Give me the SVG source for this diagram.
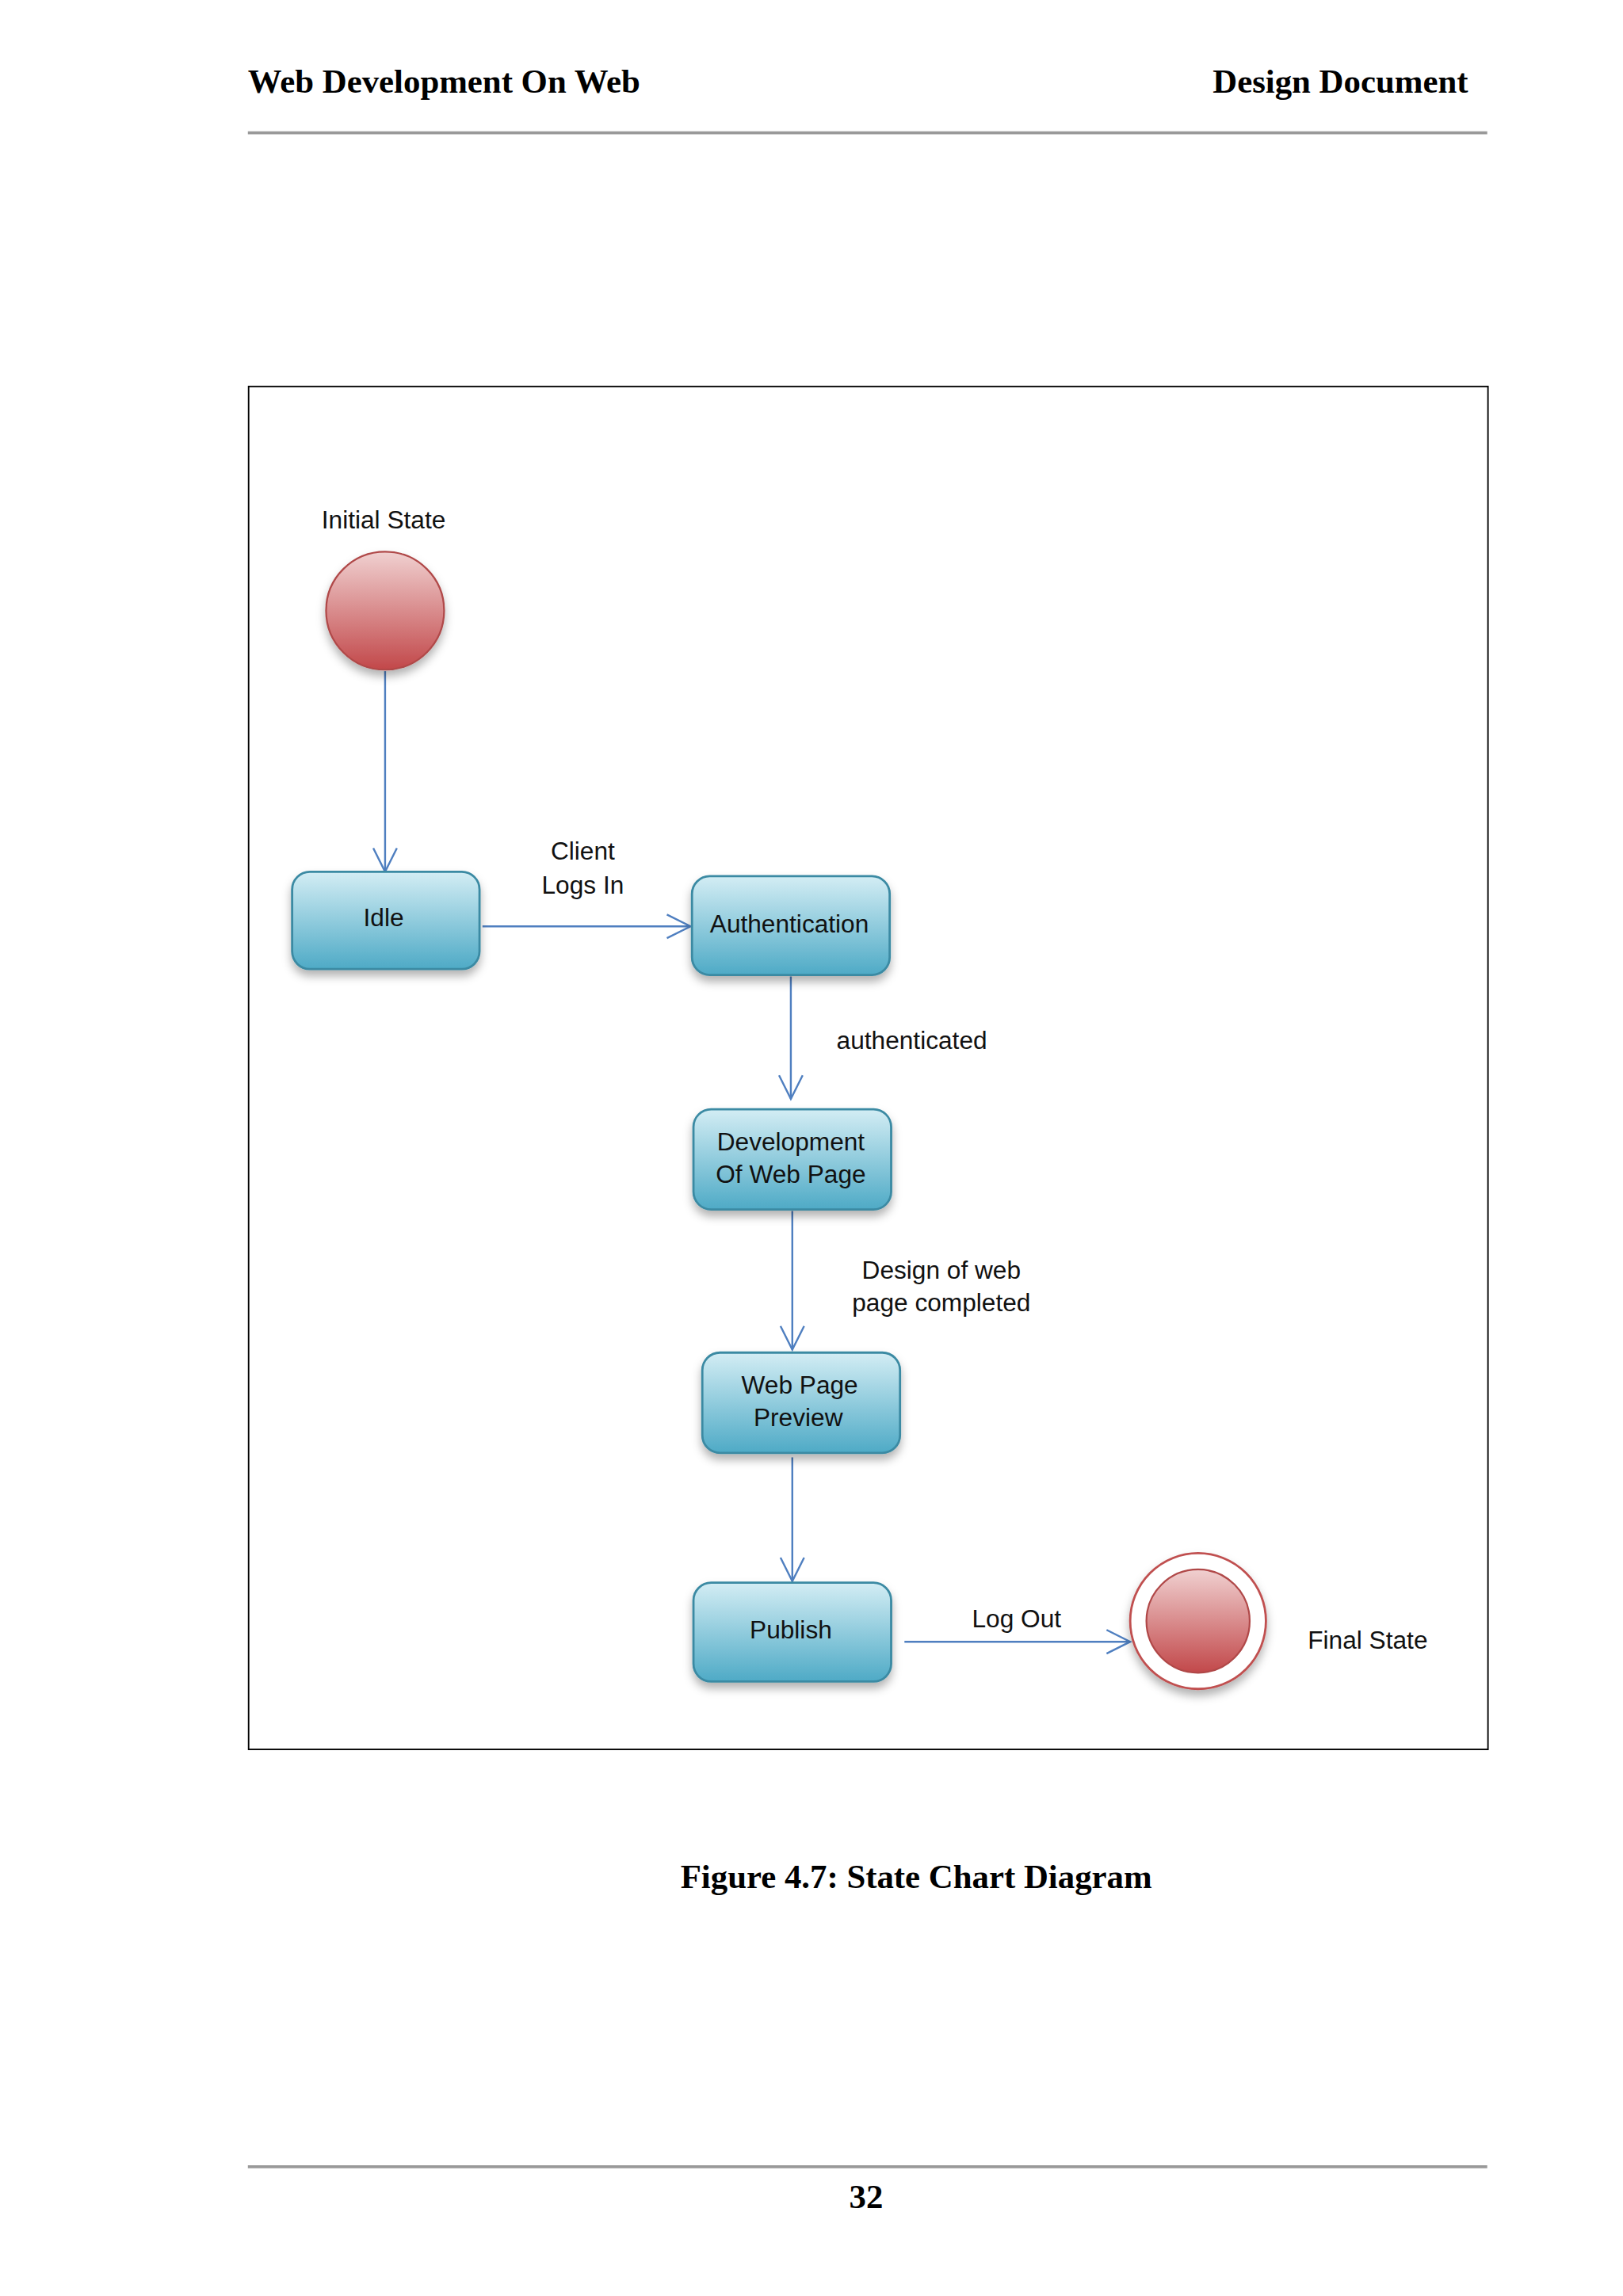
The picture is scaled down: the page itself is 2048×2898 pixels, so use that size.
<svg xmlns="http://www.w3.org/2000/svg" width="2048" height="2898" viewBox="0 0 2048 2898">
<defs>
<linearGradient id="box" x1="0" y1="0" x2="0" y2="1"><stop offset="0" stop-color="#d3edf4"/><stop offset="1" stop-color="#4eaac6"/></linearGradient>
<linearGradient id="red" x1="0" y1="0" x2="0" y2="1"><stop offset="0" stop-color="#f0d0d0"/><stop offset="1" stop-color="#c2484a"/></linearGradient>
<filter id="sh" x="-20%" y="-20%" width="140%" height="150%"><feDropShadow dx="0" dy="4" stdDeviation="3" flood-color="#000" flood-opacity="0.3"/></filter>
<marker id="arr" viewBox="0 0 20 20" refX="18" refY="10" markerWidth="20" markerHeight="20" markerUnits="userSpaceOnUse" orient="auto"><path d="M2,2 L18,10 L2,18" fill="none" stroke="#4f7fc0" stroke-width="1.3"/></marker>
<style>
.st{fill:url(#box);stroke:#3b8aa3;stroke-width:1.5;filter:url(#sh)}
.t{font-family:"Liberation Sans",Arial,sans-serif;font-size:17px;fill:#111;text-anchor:middle}
.c{stroke:#4f7fc0;stroke-width:1.3;fill:none;marker-end:url(#arr)}
.h{font-family:"Liberation Serif","Times New Roman",serif;font-weight:bold;font-size:23px;fill:#000}
</style>
</defs>
<rect width="2048" height="2898" fill="#fff"/>
<g transform="scale(1.8618)">
<g id="page">
<text class="h" x="168" y="63">Web Development On Web</text>
<text class="h" x="995" y="63" text-anchor="end">Design Document</text>
<line x1="168" y1="90" x2="1008" y2="90" stroke="#999" stroke-width="2"/>
<rect x="168.5" y="262" width="840" height="924" fill="none" stroke="#000" stroke-width="1"/>
<text class="h" x="621" y="1280" text-anchor="middle" font-size="22">Figure 4.7: State Chart Diagram</text>
<line x1="168" y1="1469" x2="1008" y2="1469" stroke="#999" stroke-width="2"/>
<text class="h" x="587" y="1497" text-anchor="middle" font-size="22">32</text>
</g>
<g id="connectors">
<line class="c" x1="261" y1="455" x2="261" y2="591"/>
<line class="c" x1="327" y1="628" x2="468" y2="628"/>
<text class="t" x="395" y="583">Client</text><text class="t" x="395" y="606">Logs In</text>
<line class="c" x1="536" y1="662" x2="536" y2="745"/>
<text class="t" x="618" y="711">authenticated</text>
<line class="c" x1="537" y1="821" x2="537" y2="915"/>
<text class="t" x="638" y="867">Design of web</text><text class="t" x="638" y="889">page completed</text>
<line class="c" x1="537" y1="988" x2="537" y2="1072"/>
<line class="c" x1="613" y1="1113" x2="766" y2="1113"/>
<text class="t" x="689" y="1103">Log Out</text>
</g>
<g id="initial">
<text class="t" x="260" y="358">Initial State</text>
<circle cx="261" cy="414" r="40" fill="url(#red)" stroke="#b04848" stroke-width="1.2" filter="url(#sh)"/>
</g>
<g id="idle"><rect class="st" x="198" y="591" width="127" height="66" rx="12"/><text class="t" x="260" y="628">Idle</text></g>
<g id="auth"><rect class="st" x="469" y="594" width="134" height="67" rx="12"/><text class="t" x="535" y="632">Authentication</text></g>
<g id="dev"><rect class="st" x="470" y="752" width="134" height="68" rx="12"/><text class="t" x="536" y="780">Development</text><text class="t" x="536" y="802">Of Web Page</text></g>
<g id="preview"><rect class="st" x="476" y="917" width="134" height="68" rx="12"/><text class="t" x="542" y="945">Web Page</text><text class="t" x="541" y="967">Preview</text></g>
<g id="publish"><rect class="st" x="470" y="1073" width="134" height="67" rx="12"/><text class="t" x="536" y="1111">Publish</text></g>
<g id="final">
<circle cx="812" cy="1099" r="46" fill="#fff" stroke="#c05050" stroke-width="1.5" filter="url(#sh)"/>
<circle cx="812" cy="1099" r="35" fill="url(#red)" stroke="#b04848" stroke-width="1.2"/>
<text class="t" x="927" y="1118">Final State</text>
</g>
</g>
</svg>
